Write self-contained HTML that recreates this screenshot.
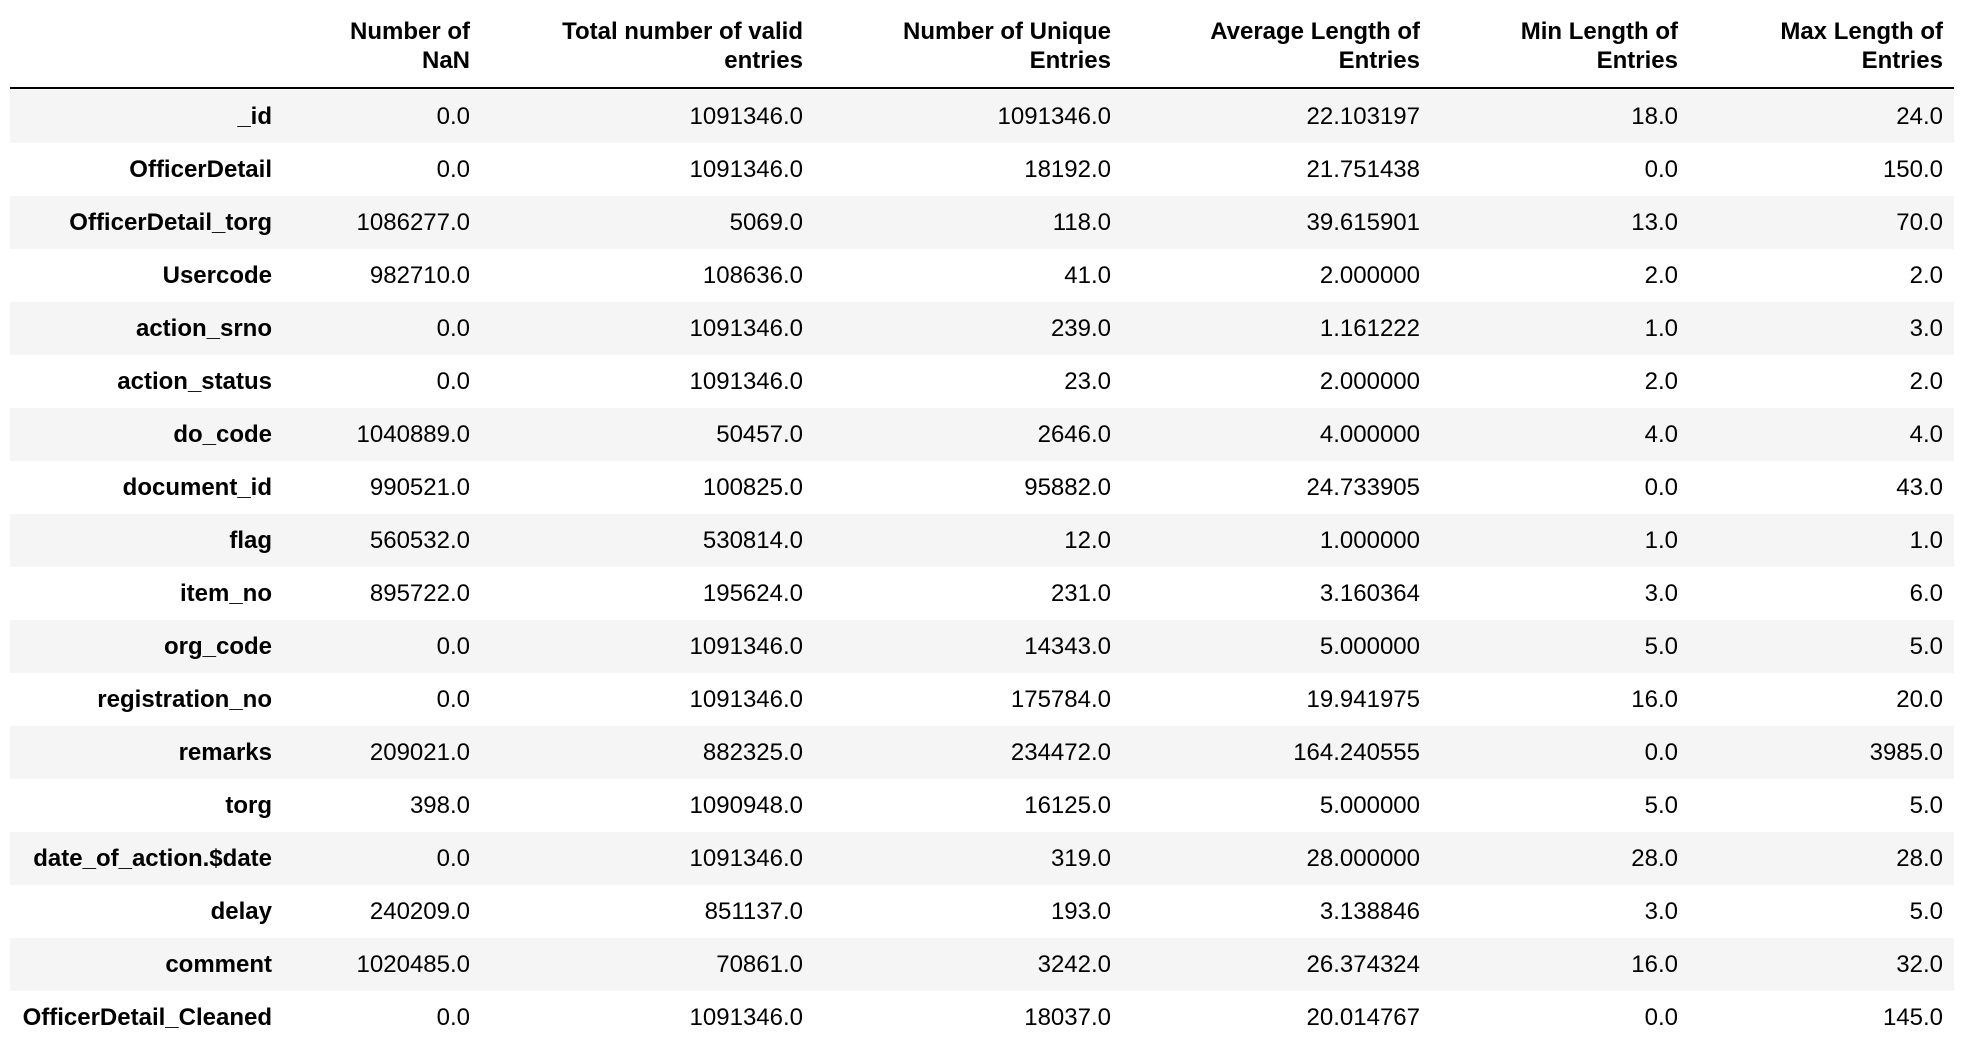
<!DOCTYPE html>
<html><head><meta charset="utf-8"><style>
body{margin:0;width:1964px;height:1050px;background:#fff;overflow:hidden;font-family:"Liberation Sans",Arial,sans-serif;color:#000}
#t{position:relative;width:1964px;height:1050px}
.c{position:absolute;font-size:24px;line-height:53px;text-align:right;white-space:nowrap}
.h{position:absolute;font-size:24px;font-weight:bold;text-align:right;line-height:29px;white-space:nowrap}
.stripe{position:absolute;left:10px;width:1944px;height:53px;background:#f5f5f5}
</style></head><body>
<div id="t">
<div style="position:absolute;left:10px;top:87px;width:1944px;height:2px;background:#000"></div>
</div>
<script>
const headers=[["Number of","NaN"],["Total number of valid","entries"],["Number of Unique","Entries"],["Average Length of","Entries"],["Min Length of","Entries"],["Max Length of","Entries"]];
const rowNames=["_id","OfficerDetail","OfficerDetail_torg","Usercode","action_srno","action_status","do_code","document_id","flag","item_no","org_code","registration_no","remarks","torg","date_of_action.$date","delay","comment","OfficerDetail_Cleaned"];
const nanCol=["0.0","0.0","1086277.0","982710.0","0.0","0.0","1040889.0","990521.0","560532.0","895722.0","0.0","0.0","209021.0","398.0","0.0","240209.0","1020485.0","0.0"];
const validCol=["1091346.0","1091346.0","5069.0","108636.0","1091346.0","1091346.0","50457.0","100825.0","530814.0","195624.0","1091346.0","1091346.0","882325.0","1090948.0","1091346.0","851137.0","70861.0","1091346.0"];
const uniqueCol=["1091346.0","18192.0","118.0","41.0","239.0","23.0","2646.0","95882.0","12.0","231.0","14343.0","175784.0","234472.0","16125.0","319.0","193.0","3242.0","18037.0"];
const avgCol=["22.103197","21.751438","39.615901","2.000000","1.161222","2.000000","4.000000","24.733905","1.000000","3.160364","5.000000","19.941975","164.240555","5.000000","28.000000","3.138846","26.374324","20.014767"];
const minCol=["18.0","0.0","13.0","2.0","1.0","2.0","4.0","0.0","1.0","3.0","5.0","16.0","0.0","5.0","28.0","3.0","16.0","0.0"];
const maxCol=["24.0","150.0","70.0","2.0","3.0","2.0","4.0","43.0","1.0","6.0","5.0","20.0","3985.0","5.0","28.0","5.0","32.0","145.0"];
const cols=[nanCol,validCol,uniqueCol,avgCol,minCol,maxCol];
const rights=[272,470,803,1111,1420,1678,1943];
const t=document.getElementById('t');
headers.forEach((h,i)=>{
  const d=document.createElement('div');d.className='h';
  
  
  d.style.right=(1964-rights[i+1])+'px';d.style.top='17px';
  d.innerHTML=h[0]+'<br>'+h[1];t.appendChild(d);
});
rowNames.forEach((r,i)=>{
  const top=90+i*53;
  if(i%2===0){const s=document.createElement('div');s.className='stripe';
    
    
    s.style.top=top+'px';t.appendChild(s);}
  const n=document.createElement('div');n.className='c';n.style.fontWeight='bold';
  
  
  n.style.right=(1964-rights[0])+'px';n.style.top=top+'px';n.textContent=r;t.appendChild(n);
  cols.forEach((c,j)=>{
    const d=document.createElement('div');d.className='c';
    
    
    d.style.right=(1964-rights[j+1])+'px';d.style.top=top+'px';d.textContent=c[i];t.appendChild(d);
  });
});
</script>
</body></html>
